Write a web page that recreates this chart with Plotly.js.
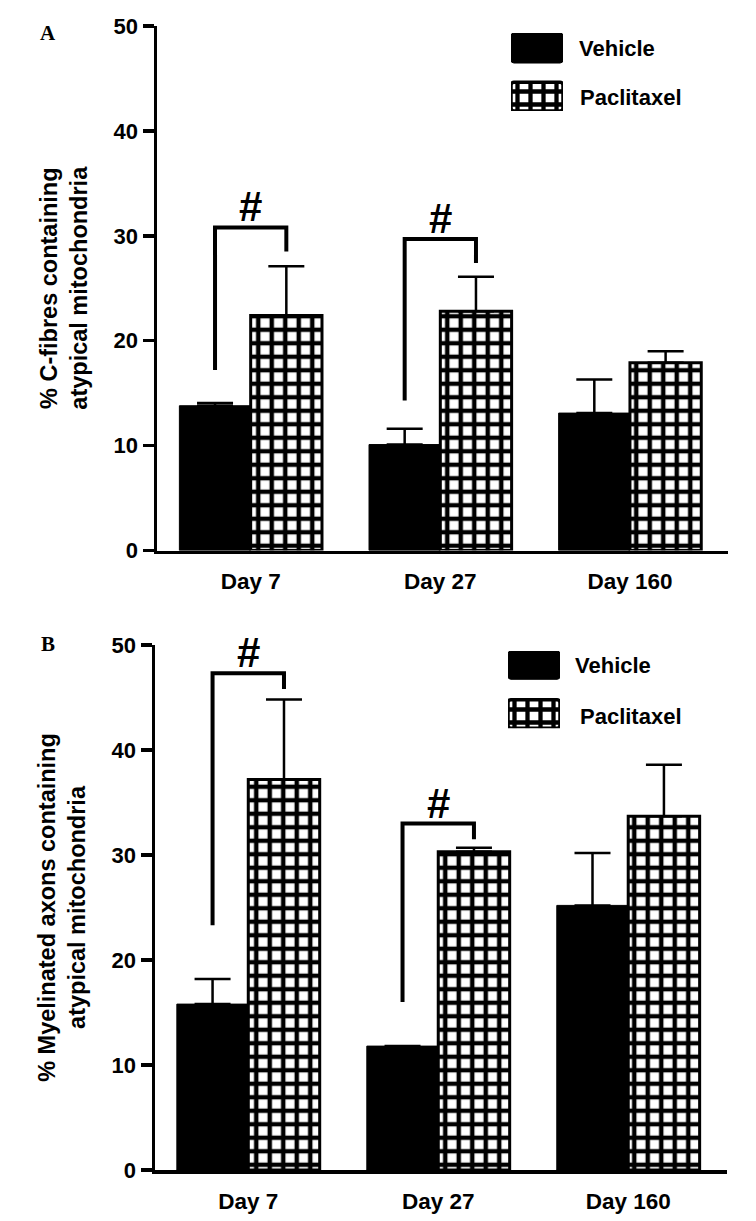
<!DOCTYPE html>
<html>
<head>
<meta charset="utf-8">
<script src="https://cdn.plot.ly/plotly-3.0.1.min.js"></script>
<style>html,body{margin:0;padding:0;background:#fff;}#chart{width:756px;height:1221px;}</style>
</head>
<body>
<div id="chart"></div>
<script>
// ---------- data ----------
const days = ['Day 7', 'Day 27', 'Day 160'];
const seriesNames = ['Vehicle', 'Paclitaxel'];
const yTicks = [0, 10, 20, 30, 40, 50];

// Panel A: % C-fibres containing atypical mitochondria
const vehicleA = [13.8, 10.1, 13.1];
const vehicleAErr = [0.25, 1.5, 3.2];
const paclitaxelA = [22.4, 22.8, 17.9];
const paclitaxelAErr = [4.7, 3.3, 1.1];
// significance brackets A (Day 7, Day 27): top, left leg end, right leg end
const bracketATop = [30.8, 29.7];
const bracketALeft = [17.2, 14.3];
const bracketARight = [28.5, 27.4];

// Panel B: % Myelinated axons containing atypical mitochondria
const vehicleB = [15.8, 11.8, 25.2];
const vehicleBErr = [2.4, 0, 5.0];
const paclitaxelB = [37.2, 30.3, 33.7];
const paclitaxelBErr = [7.6, 0.4, 4.9];
const bracketBTop = [47.3, 33.0];
const bracketBLeft = [23.3, 16.0];
const bracketBRight = [45.8, 31.5];

const sigLabel = '#';
const titleA = '% C-fibres containing<br>atypical mitochondria';
const titleB = '% Myelinated axons containing<br>atypical mitochondria';

// ---------- geometry helpers ----------
const W = 756, H = 1221;
const M = {l: 155, r: 28, t: 26, b: 51};
const PW = W - M.l - M.r, PH = H - M.t - M.b;
const px2x = p => (p - M.l) / PW;
const px2y = p => (H - M.b - p) / PH;

const BW = 0.376; // bar width in category units
const idx = days.map((d, i) => i);
const FONT = 'Liberation Sans, Arial, Helvetica, sans-serif';
const bold = (size) => ({family: FONT, size: size, color: '#000', weight: 'bold'});

const pattern = {shape: '+', size: 13.5, solidity: 0.55, fgcolor: '#000', bgcolor: '#fff', fillmode: 'replace'};

function panelTraces(xa, ya, veh, vehErr, pac, pacErr, bTop, bLeft, bRight) {
  const tr = [];
  tr.push({
    type: 'bar', name: seriesNames[0], x: idx, y: veh, width: BW, offset: -BW,
    xaxis: xa, yaxis: ya, showlegend: false, hoverinfo: 'skip',
    marker: {color: '#000', line: {color: '#000', width: 1}},
    error_y: {type: 'data', symmetric: false, array: vehErr, arrayminus: veh.map(() => 0),
      color: '#000', thickness: 2.5, width: 18}
  });
  tr.push({
    type: 'bar', name: seriesNames[1], x: idx, y: pac, width: BW, offset: 0,
    xaxis: xa, yaxis: ya, showlegend: false, hoverinfo: 'skip',
    marker: {color: '#fff', line: {color: '#000', width: 3}, pattern: pattern},
    error_y: {type: 'data', symmetric: false, array: pacErr, arrayminus: pac.map(() => 0),
      color: '#000', thickness: 2.5, width: 18}
  });
  bTop.forEach((t, i) => {
    tr.push({
      type: 'scatter', mode: 'lines', xaxis: xa, yaxis: ya, showlegend: false, hoverinfo: 'skip',
      x: [i - BW / 2, i - BW / 2, i + BW / 2, i + BW / 2],
      y: [bLeft[i], t, t, bRight[i]],
      line: {color: '#000', width: 4}
    });
  });
  return tr;
}

function legendTraces(xa, ya, vehBase) {
  return [
    {type: 'bar', x: [0.5], y: [1 - vehBase], base: [vehBase], width: 1, xaxis: xa, yaxis: ya,
     showlegend: false, hoverinfo: 'skip',
     marker: {color: '#000', line: {color: '#000', width: 1}, cornerradius: 3}},
    {type: 'bar', x: [0.5], y: [0.37], base: [0], width: 1, xaxis: xa, yaxis: ya,
     showlegend: false, hoverinfo: 'skip',
     marker: {color: '#fff', line: {color: '#000', width: 3.5}, cornerradius: 3,
       pattern: {shape: '+', size: 13, solidity: 0.55, fgcolor: '#000', bgcolor: '#fff', fillmode: 'replace'}}}
  ];
}

const traces = [].concat(
  panelTraces('x', 'y', vehicleA, vehicleAErr, paclitaxelA, paclitaxelAErr, bracketATop, bracketALeft, bracketARight),
  panelTraces('x2', 'y2', vehicleB, vehicleBErr, paclitaxelB, paclitaxelBErr, bracketBTop, bracketBLeft, bracketBRight),
  legendTraces('x3', 'y3', 0.615),
  legendTraces('x4', 'y4', 0.634)
);

function xAxis(domain, range, anchor) {
  return {domain: domain, range: range, anchor: anchor, tickmode: 'array', tickvals: idx, ticktext: days,
    showline: true, linecolor: '#000', linewidth: 3.5, ticks: 'outside', ticklen: 8, tickcolor: 'rgba(0,0,0,0)',
    showgrid: false, zeroline: false, tickfont: bold(22.5), fixedrange: true};
}
function yAxis(domain, anchor, title) {
  return {domain: domain, range: [0, 50], anchor: anchor, tickmode: 'array', tickvals: yTicks,
    showline: true, linecolor: '#000', linewidth: 3.5, ticks: 'outside', ticklen: 11, tickwidth: 3.5, tickcolor: '#000',
    showgrid: false, zeroline: false, tickfont: bold(22), fixedrange: true,
    title: {text: title, font: bold(23.5), standoff: 20}};
}
const hidden = (domain) => ({domain: domain, range: [0, 1], visible: false, fixedrange: true});

const layout = {
  width: W, height: H, margin: M, paper_bgcolor: '#fff', plot_bgcolor: 'rgba(0,0,0,0)',
  showlegend: false, barmode: 'overlay',
  xaxis: xAxis([px2x(157), 1], [-0.494, 2.517], 'y'),
  yaxis: yAxis([px2y(550.5), 1], 'x', titleA),
  xaxis2: xAxis([0, px2x(727)], [-0.491, 2.52], 'y2'),
  yaxis2: yAxis([0, px2y(645)], 'x2', titleB),
  xaxis3: Object.assign(hidden([px2x(511), px2x(563)]), {anchor: 'y3'}),
  yaxis3: Object.assign(hidden([px2y(111), px2y(33)]), {anchor: 'x3'}),
  xaxis4: Object.assign(hidden([px2x(508), px2x(560)]), {anchor: 'y4'}),
  yaxis4: Object.assign(hidden([px2y(728.3), px2y(651)]), {anchor: 'x4'}),
  annotations: [],
};

// significance marks
[[bracketATop, 'x', 'y'], [bracketBTop, 'x2', 'y2']].forEach(([tops, xr, yr]) => {
  tops.forEach((t, i) => layout.annotations.push({
    xref: xr, yref: yr, x: i, y: t, text: sigLabel, showarrow: false,
    xanchor: 'center', yanchor: 'bottom', yshift: -5, font: bold(42)
  }));
});
// legend labels
[[576.7, 48, seriesNames[0]], [577.7, 97, seriesNames[1]], [572.7, 665.7, seriesNames[0]], [577.7, 716.7, seriesNames[1]]]
  .forEach(([x, y, t]) => layout.annotations.push({
    xref: 'paper', yref: 'paper', x: px2x(x), y: px2y(y), text: t, showarrow: false,
    xanchor: 'left', yanchor: 'middle', font: bold(22)
  }));
// panel letters
[[48, 33, 'A'], [48, 644, 'B']].forEach(([x, y, t]) => layout.annotations.push({
  xref: 'paper', yref: 'paper', x: px2x(x), y: px2y(y), text: t, showarrow: false,
  xanchor: 'center', yanchor: 'middle',
  font: {family: 'Liberation Serif, Times New Roman, serif', size: 21, color: '#000', weight: 'bold'}
}));

Plotly.newPlot('chart', traces, layout, {displayModeBar: false, staticPlot: true});
</script>
</body>
</html>
